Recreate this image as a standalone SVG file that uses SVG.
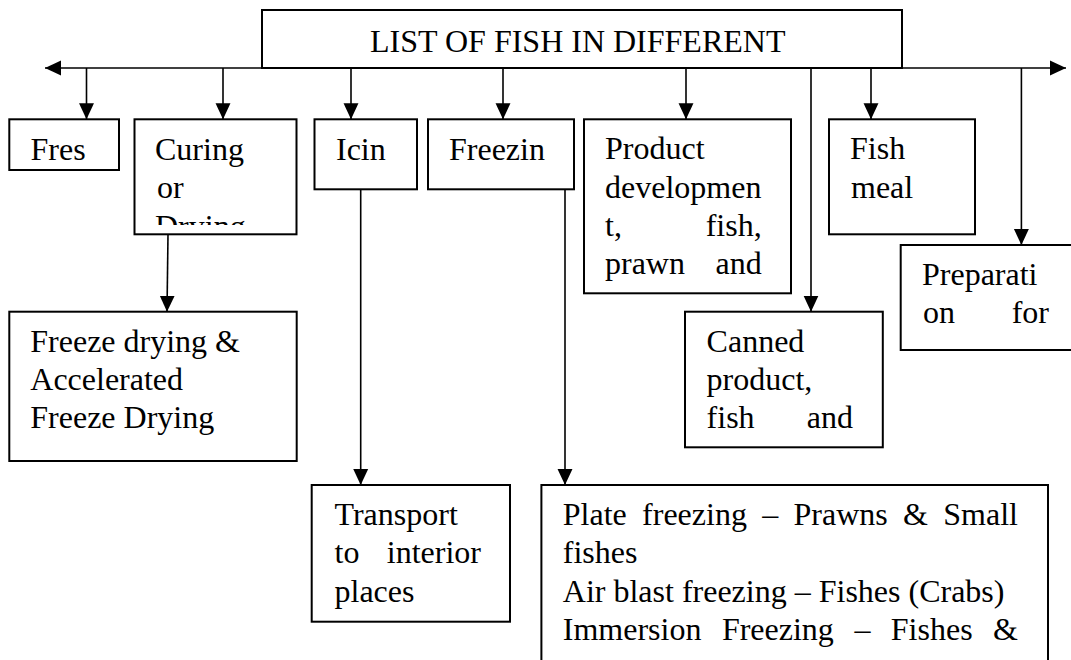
<svg xmlns="http://www.w3.org/2000/svg" width="1071" height="660" viewBox="0 0 1071 660" font-family="Liberation Serif, Times New Roman, serif">
<style>
.box{fill:#fff;stroke:#000;stroke-width:2}
.t{font-family:'Liberation Serif','Times New Roman',Times,serif;font-size:32px;fill:#000}
.e{text-anchor:end}
.c{fill:none;stroke:#000;stroke-width:1.6}
</style>
<defs>
<marker id="ah" markerUnits="userSpaceOnUse" markerWidth="16" markerHeight="16" viewBox="0 0 15 14" refX="15" refY="7" orient="auto-start-reverse">
<path d="M0,0 L15,7 L0,14 z" fill="#000"/>
</marker>
<clipPath id="cc"><rect x="134" y="119" width="163" height="106"/></clipPath>
</defs>
<rect width="1071" height="660" fill="#fff"/>
<g id="connectors">
<path class="c" d="M45,68 H1066" marker-start="url(#ah)" marker-end="url(#ah)"/>
<path class="c" d="M86.5,68 V119.3" marker-end="url(#ah)"/>
<path class="c" d="M223,68 V119.3" marker-end="url(#ah)"/>
<path class="c" d="M351,68 V119.3" marker-end="url(#ah)"/>
<path class="c" d="M503,68 V119.3" marker-end="url(#ah)"/>
<path class="c" d="M686,68 V119.3" marker-end="url(#ah)"/>
<path class="c" d="M871,68 V119.3" marker-end="url(#ah)"/>
<path class="c" d="M811,68 V311.7" marker-end="url(#ah)"/>
<path class="c" d="M1021.4,68 V245" marker-end="url(#ah)"/>
<path class="c" d="M168,234.3 L167,311.7" marker-end="url(#ah)"/>
<path class="c" d="M360.7,189.3 V485" marker-end="url(#ah)"/>
<path class="c" d="M565,189.3 V485" marker-end="url(#ah)"/>
</g>
<g id="title">
<rect class="box" x="262" y="10" width="640" height="58"/>
<text class="t" x="370" y="51.7">LIST OF FISH IN DIFFERENT</text>
</g>
<g id="fres">
<rect class="box" x="9.3" y="119.3" width="109.7" height="50.7"/>
<text class="t" x="30.5" y="160">Fres</text>
</g>
<g id="curing">
<rect class="box" x="134.5" y="119.3" width="162" height="115"/>
<g clip-path="url(#cc)">
<text class="t" x="155" y="160">Curing</text>
<text class="t" x="157" y="198.3">or</text>
<text class="t" x="155" y="236.6">Drying</text>
</g>
</g>
<g id="icing">
<rect class="box" x="314.5" y="119.3" width="102.5" height="70"/>
<text class="t" x="336" y="160">Icin</text>
</g>
<g id="freezing">
<rect class="box" x="428" y="119.3" width="146" height="70"/>
<text class="t" x="449" y="160">Freezin</text>
</g>
<g id="product">
<rect class="box" x="584" y="119.3" width="207" height="174"/>
<text class="t" x="605" y="159.3">Product</text>
<text class="t" x="605" y="197.6">developmen</text>
<text class="t" x="605" y="235.9">t,</text>
<text class="t e" x="761.7" y="235.9">fish,</text>
<text class="t" x="605" y="274.2">prawn</text>
<text class="t e" x="761.7" y="274.2">and</text>
</g>
<g id="fishmeal">
<rect class="box" x="829" y="119.3" width="146" height="115"/>
<text class="t" x="850" y="159.3">Fish</text>
<text class="t" x="851" y="197.6">meal</text>
</g>
<g id="preparation">
<rect class="box" x="900.7" y="245" width="180" height="105"/>
<text class="t" x="922" y="285">Preparati</text>
<text class="t" x="923" y="323.3">on</text>
<text class="t e" x="1049" y="323.3">for</text>
</g>
<g id="canned">
<rect class="box" x="685" y="311.7" width="197.8" height="135.6"/>
<text class="t" x="706.6" y="351.7">Canned</text>
<text class="t" x="706.6" y="390">product,</text>
<text class="t" x="706.6" y="428.3">fish</text>
<text class="t e" x="853" y="428.3">and</text>
</g>
<g id="freezedrying">
<rect class="box" x="9.3" y="311.7" width="287.4" height="149.3"/>
<text class="t" x="30.3" y="351.7">Freeze drying &amp;</text>
<text class="t" x="30.3" y="390">Accelerated</text>
<text class="t" x="30.3" y="428.3">Freeze Drying</text>
</g>
<g id="transport">
<rect class="box" x="311.7" y="485" width="198.3" height="136.7"/>
<text class="t" x="334.5" y="525">Transport</text>
<text class="t" x="334.5" y="563.3">to</text>
<text class="t e" x="481" y="563.3">interior</text>
<text class="t" x="334.5" y="601.6">places</text>
</g>
<g id="freezingmethods">
<rect class="box" x="541.4" y="485" width="506.6" height="190"/>
<text class="t" y="525"><tspan x="562.8">Plate</tspan><tspan x="642.1">freezing</tspan><tspan x="762.2">–</tspan><tspan x="793.5">Prawns</tspan><tspan x="903">&amp;</tspan><tspan x="943.3">Small</tspan></text>
<text class="t" x="562.8" y="563.3">fishes</text>
<text class="t" x="562.8" y="601.6">Air blast freezing – Fishes (Crabs)</text>
<text class="t" y="639.9"><tspan x="562.8">Immersion</tspan><tspan x="721.9">Freezing</tspan><tspan x="854.4">–</tspan><tspan x="890.8">Fishes</tspan><tspan x="993.1">&amp;</tspan></text>
</g>
</svg>
